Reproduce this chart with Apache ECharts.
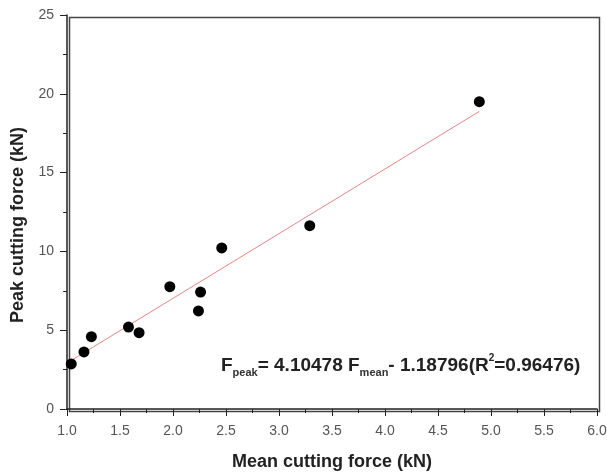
<!DOCTYPE html>
<html>
<head>
<meta charset="utf-8">
<script src="https://cdn.jsdelivr.net/npm/echarts@6/dist/echarts.min.js"></script>
<style>
html,body{margin:0;padding:0;background:#fff;}
#main{width:607px;height:473px;}
</style>
</head>
<body>
<div id="main"></div>
<script>
// measured points (mean force kN, peak force kN)
var meanForce = [1.04, 1.16, 1.23, 1.58, 1.68, 1.97, 2.24, 2.26, 2.46, 3.29, 4.89];
var peakForce = [2.86, 3.62, 4.59, 5.20, 4.84, 7.76, 6.22, 7.42, 10.22, 11.63, 19.50];
// fitted line end points
var fitX = [1.03, 4.89];
var slope = 4.10478, intercept = -1.18796;

var pts = [];
for (var i = 0; i < meanForce.length; i++) pts.push([meanForce[i], peakForce[i]]);
var fit = [];
for (var j = 0; j < fitX.length; j++) fit.push([fitX[j], slope * fitX[j] + intercept]);

var myChart = echarts.init(document.getElementById('main'));
var ff = 'Liberation Sans, Arial';
var axisFont = {color: '#555', fontSize: 14, fontFamily: ff};
var titleFont = {fontSize: 18, fontWeight: 'bold', color: '#222', fontFamily: ff};
option = {
	animation: false,
	grid: {left: 67, right: 10, top: 15, bottom: 64, outerBoundsMode: 'none'},
	xAxis: {
		type: 'value', min: 1, max: 6, interval: 0.5,
		name: 'Mean cutting force (kN)', nameLocation: 'middle', nameGap: 44,
		nameTextStyle: titleFont,
		axisLine: {onZero: false, lineStyle: {color: '#222', width: 1.5}},
		axisTick: {inside: false, length: 7, lineStyle: {color: '#222'}},
		minorTick: {show: true, splitNumber: 2, length: 4, lineStyle: {color: '#222'}},
		axisLabel: Object.assign({formatter: function (v) { return v.toFixed(1); }, margin: 15}, axisFont),
		splitLine: {show: false}
	},
	yAxis: {
		type: 'value', min: 0, max: 25, interval: 5,
		axisLine: {onZero: false, lineStyle: {color: '#222', width: 1.5}},
		axisTick: {inside: false, length: 7, lineStyle: {color: '#222'}},
		minorTick: {show: true, splitNumber: 2, length: 4, lineStyle: {color: '#222'}},
		axisLabel: Object.assign({margin: 13}, axisFont),
		splitLine: {show: false}
	},
	graphic: [{
		type: 'rect', left: 67, top: 15, z: 0,
		shape: {width: 530, height: 394},
		style: {fill: 'none', stroke: '#444', lineWidth: 1.5}
	}, {
		type: 'text', x: 18, y: 225, rotation: Math.PI / 2, z: 10,
		style: {text: 'Peak cutting force (kN)', align: 'center', verticalAlign: 'middle', fill: '#222',
			font: 'bold 18px Liberation Sans, Arial'}
	}, {
		type: 'text', left: 221, top: 353, z: 10,
		style: {
			rich: {
				b: {fontSize: 19, fontWeight: 'bold', fill: '#222', fontFamily: ff},
				sub: {fontSize: 11, fontWeight: 'bold', fill: '#333', fontFamily: ff, verticalAlign: 'bottom', padding: [14, 0, 0, 0]},
				sup: {fontSize: 10, fontWeight: 'bold', fill: '#222', fontFamily: ff, verticalAlign: 'top', padding: [0, 0, 12, 0]}
			},
			text: '{b|F}{sub|peak}{b|= 4.10478 F}{sub|mean}{b|- 1.18796(R}{sup|2}{b|=0.96476)}'
		}
	}],
	series: [{
		type: 'line', data: fit, symbol: 'none',
		lineStyle: {color: '#e58585', width: 1}, z: 2
	}, {
		type: 'scatter', data: pts, symbolSize: 11,
		itemStyle: {color: '#000', opacity: 1}, z: 3
	}]
};
myChart.setOption(option, true);
</script>
</body>
</html>
